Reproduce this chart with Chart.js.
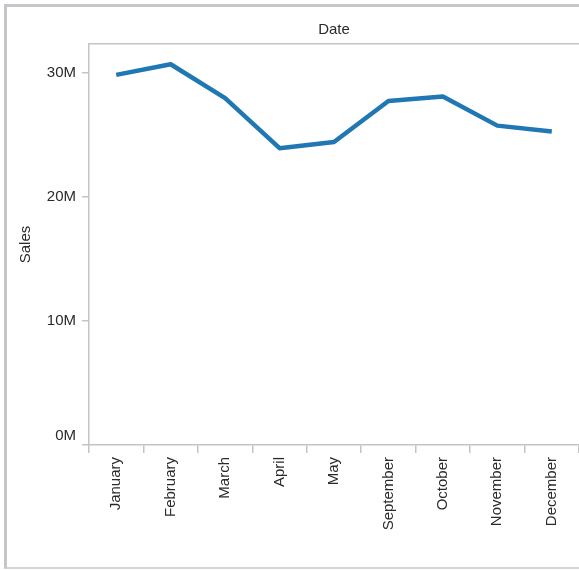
<!DOCTYPE html>
<html>
<head>
<meta charset="utf-8">
<script src="https://cdn.jsdelivr.net/npm/chart.js@4"></script>
<style>
  html, body { margin: 0; padding: 0; background: #fff; overflow: hidden; }
  #frame { position: absolute; left: 4px; top: 4px; width: 700px; height: 565px; box-sizing: border-box;
           border-left: 3px solid #c6c6ca; border-top: 3px solid #c6c6ca; border-bottom: 2px solid #d4d4d4; }
  #wrap { position: absolute; left: 0; top: 0; width: 579px; height: 570px; }
</style>
</head>
<body>
<div id="frame"></div>
<div id="wrap"><canvas id="c"></canvas></div>
<script>
const categories = ["January", "February", "March", "April", "May", "September", "October", "November", "December"];
const sales = [29840000, 30700000, 27960000, 23930000, 24430000, 27740000, 28090000, 25750000, 25270000];
const yTickValues = [0, 10000000, 20000000, 30000000];
const yMax = 32330000;

const FONT = "'Liberation Sans', Arial, sans-serif";
const AXIS = '#c4c4c4';
const TEXT = '#2a2a2a';

new Chart(document.getElementById('c'), {
  type: 'line',
  data: {
    labels: categories,
    datasets: [{
      label: 'Sales',
      data: sales,
      borderColor: '#1f77b4',
      borderWidth: 4.5,
      pointRadius: 0,
      pointHoverRadius: 0,
      tension: 0,
      fill: false,
      borderJoinStyle: 'round',
      borderCapStyle: 'butt'
    }]
  },
  options: {
    responsive: true,
    maintainAspectRatio: false,
    animation: false,
    layout: { padding: 0 },
    plugins: { legend: { display: false }, tooltip: { enabled: false }, title: { display: false } },
    scales: {
      x: {
        type: 'category',
        position: 'bottom',
        offset: true,
        grid: { display: true, offset: true, drawOnChartArea: false, drawTicks: true, tickLength: 8, color: AXIS, lineWidth: 1.5 },
        border: { display: true, color: AXIS, width: 1.5 },
        ticks: { maxRotation: 90, minRotation: 90, autoSkip: false, padding: 4, color: TEXT, font: { family: FONT, size: 15 } },
        afterFit: (s) => { s.height = 125; }
      },
      x2: {
        type: 'category',
        position: 'top',
        labels: categories,
        offset: true,
        grid: { display: false },
        border: { display: true, color: AXIS, width: 1.5 },
        ticks: { display: false },
        title: { display: true, text: 'Date', color: TEXT, font: { family: FONT, size: 15 }, padding: { top: 21, bottom: 0 } },
        afterFit: (s) => { s.height = 44; }
      },
      y: {
        type: 'linear',
        position: 'left',
        min: 0,
        max: yMax,
        grid: { display: true, drawOnChartArea: false, drawTicks: true, tickLength: 7, color: AXIS, lineWidth: 1.5 },
        border: { display: true, color: AXIS, width: 1.5 },
        ticks: {
          includeBounds: false,
          padding: 6,
          color: TEXT,
          font: { family: FONT, size: 15 },
          callback: (v) => v === 0 ? ['0M', ''] : (v / 1000000) + 'M'
        },
        afterBuildTicks: (s) => { s.ticks = yTickValues.map(v => ({ value: v })); },
        title: { display: true, text: 'Sales', color: TEXT, font: { family: FONT, size: 15 }, padding: { top: 17, bottom: 0 } },
        afterFit: (s) => { s.width = 89; }
      }
    }
  }
});
</script>
</body>
</html>
